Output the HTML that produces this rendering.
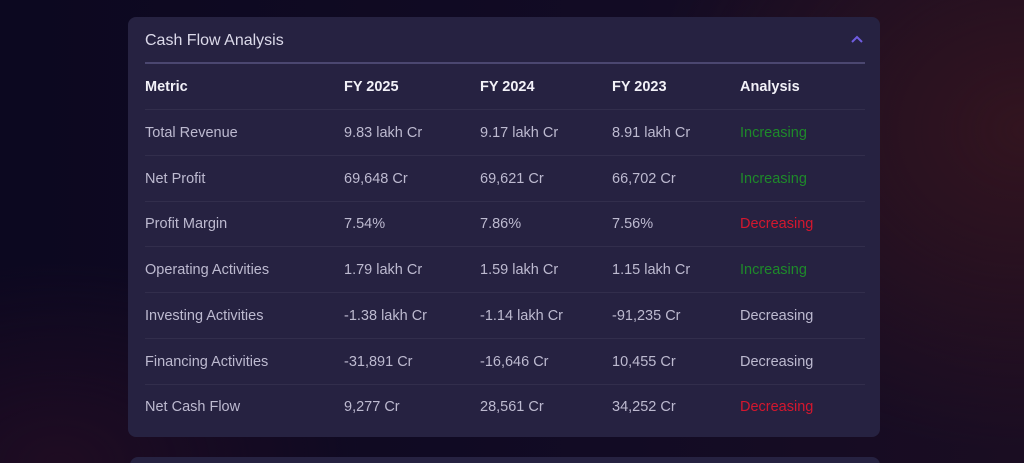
<!DOCTYPE html>
<html><head><style>
html,body{margin:0;padding:0;width:1024px;height:463px;overflow:hidden}
body{position:relative;font-family:"Liberation Sans",sans-serif;
background:radial-gradient(ellipse 380px 320px at 1024px 130px,#32141f 0%,rgba(50,20,31,0) 100%),radial-gradient(ellipse 300px 200px at 60px 463px,#1f0c22 0%,rgba(31,12,34,0) 100%),linear-gradient(90deg,#0c0820 0%,#120b24 60%,#1a0d22 100%);}
.card{position:absolute;left:128px;top:17px;width:752px;height:420px;background:#262241;border-radius:8px;}
.card2{position:absolute;left:130px;top:457px;width:750px;height:20px;background:#262241;border-radius:8px;}
.t{position:absolute;white-space:nowrap;font-size:14.5px;color:#bdbad0;transform:translateY(-50%)}
.h{font-weight:bold;color:#f2f1f8;font-size:14.5px}
.title{font-size:16px;color:#dcdaea}
.sep{position:absolute;left:145px;width:720px;height:1px;background:#322e4c}
.g{color:#1e8a2a}.r{color:#d4172e}
</style></head><body>
<div class="card"></div><div class="card2"></div>
<div class="t title" style="left:145px;top:41px">Cash Flow Analysis</div>
<svg style="position:absolute;left:850px;top:35px" width="14" height="10"><polyline points="2,7 7,2 12,7" fill="none" stroke="#6f5ce0" stroke-width="2"/></svg>
<div style="position:absolute;left:145px;top:62px;width:720px;height:2px;background:#4b4770"></div>
<div class="t h" style="left:145px;top:87px">Metric</div>
<div class="t h" style="left:344px;top:87px">FY 2025</div>
<div class="t h" style="left:480px;top:87px">FY 2024</div>
<div class="t h" style="left:612px;top:87px">FY 2023</div>
<div class="t h" style="left:740px;top:87px">Analysis</div>
<div class="sep" style="top:109px"></div>
<div class="sep" style="top:155px"></div>
<div class="sep" style="top:201px"></div>
<div class="sep" style="top:246px"></div>
<div class="sep" style="top:292px"></div>
<div class="sep" style="top:338px"></div>
<div class="sep" style="top:384px"></div>

<div class="t" style="left:145px;top:133px">Total Revenue</div>
<div class="t" style="left:344px;top:133px">9.83 lakh Cr</div>
<div class="t" style="left:480px;top:133px">9.17 lakh Cr</div>
<div class="t" style="left:612px;top:133px">8.91 lakh Cr</div>
<div class="t g" style="left:740px;top:133px">Increasing</div>

<div class="t" style="left:145px;top:179px">Net Profit</div>
<div class="t" style="left:344px;top:179px">69,648 Cr</div>
<div class="t" style="left:480px;top:179px">69,621 Cr</div>
<div class="t" style="left:612px;top:179px">66,702 Cr</div>
<div class="t g" style="left:740px;top:179px">Increasing</div>

<div class="t" style="left:145px;top:224px">Profit Margin</div>
<div class="t" style="left:344px;top:224px">7.54%</div>
<div class="t" style="left:480px;top:224px">7.86%</div>
<div class="t" style="left:612px;top:224px">7.56%</div>
<div class="t r" style="left:740px;top:224px">Decreasing</div>

<div class="t" style="left:145px;top:270px">Operating Activities</div>
<div class="t" style="left:344px;top:270px">1.79 lakh Cr</div>
<div class="t" style="left:480px;top:270px">1.59 lakh Cr</div>
<div class="t" style="left:612px;top:270px">1.15 lakh Cr</div>
<div class="t g" style="left:740px;top:270px">Increasing</div>

<div class="t" style="left:145px;top:316px">Investing Activities</div>
<div class="t" style="left:344px;top:316px">-1.38 lakh Cr</div>
<div class="t" style="left:480px;top:316px">-1.14 lakh Cr</div>
<div class="t" style="left:612px;top:316px">-91,235 Cr</div>
<div class="t" style="left:740px;top:316px">Decreasing</div>

<div class="t" style="left:145px;top:362px">Financing Activities</div>
<div class="t" style="left:344px;top:362px">-31,891 Cr</div>
<div class="t" style="left:480px;top:362px">-16,646 Cr</div>
<div class="t" style="left:612px;top:362px">10,455 Cr</div>
<div class="t" style="left:740px;top:362px">Decreasing</div>

<div class="t" style="left:145px;top:407px">Net Cash Flow</div>
<div class="t" style="left:344px;top:407px">9,277 Cr</div>
<div class="t" style="left:480px;top:407px">28,561 Cr</div>
<div class="t" style="left:612px;top:407px">34,252 Cr</div>
<div class="t r" style="left:740px;top:407px">Decreasing</div>
</body></html>
